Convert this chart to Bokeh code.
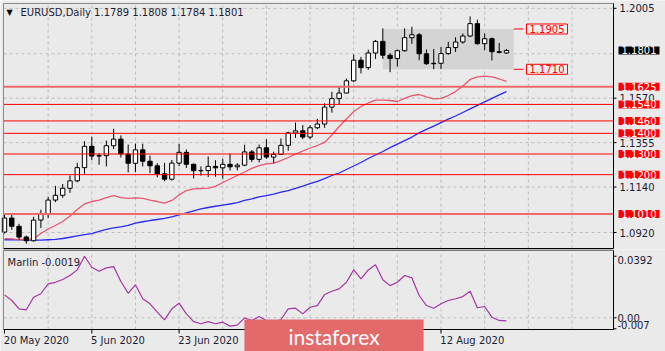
import numpy as np
import pandas as pd
from bokeh.plotting import figure
from bokeh.layouts import column
from bokeh.models import Range1d, Label
from bokeh.embed import file_html
from bokeh.resources import INLINE

# ---------------- data ----------------
symbol = "EURUSD"
timeframe = "Daily"
start_date = "2020-05-20"

opens = [1.0922, 1.0990, 1.0950, 1.0898, 1.0880, 1.0980, 1.1007, 1.1077, 1.1100, 1.1134,
         1.1170, 1.1234, 1.1337, 1.1290, 1.1292, 1.1340, 1.1372, 1.1300, 1.1255, 1.1320,
         1.1265, 1.1243, 1.1204, 1.1178, 1.1256, 1.1308, 1.1250, 1.1219, 1.1220, 1.1240,
         1.1233, 1.1250, 1.1238, 1.1246, 1.1310, 1.1274, 1.1330, 1.1285, 1.1298, 1.1342,
         1.1402, 1.1412, 1.1382, 1.1427, 1.1445, 1.1527, 1.1568, 1.1595, 1.1654, 1.1754,
         1.1718, 1.1789, 1.1845, 1.1778, 1.1762, 1.1800, 1.1863, 1.1877, 1.1785, 1.1737,
         1.1739, 1.1786, 1.1815, 1.1842, 1.1871, 1.1931, 1.1834, 1.1858, 1.1795, 1.1789]
highs = [1.1008, 1.1010, 1.0962, 1.0905, 1.0996, 1.1030, 1.1093, 1.1146, 1.1155, 1.1196,
         1.1257, 1.1362, 1.1384, 1.1304, 1.1365, 1.1422, 1.1390, 1.1346, 1.1350, 1.1350,
         1.1292, 1.1256, 1.1257, 1.1271, 1.1349, 1.1322, 1.1254, 1.1240, 1.1288, 1.1270,
         1.1277, 1.1302, 1.1256, 1.1345, 1.1319, 1.1346, 1.1371, 1.1311, 1.1375, 1.1408,
         1.1452, 1.1440, 1.1440, 1.1470, 1.1545, 1.1601, 1.1626, 1.1665, 1.1781, 1.1770,
         1.1805, 1.1852, 1.1908, 1.1788, 1.1806, 1.1908, 1.1916, 1.1885, 1.1806, 1.1808,
         1.1818, 1.1843, 1.1865, 1.1883, 1.1966, 1.1950, 1.1884, 1.1864, 1.1838, 1.1808]
lows = [1.0915, 1.0933, 1.0885, 1.0866, 1.0876, 1.0942, 1.0990, 1.1067, 1.1088, 1.1112,
        1.1163, 1.1204, 1.1270, 1.1248, 1.1240, 1.1324, 1.1283, 1.1211, 1.1212, 1.1240,
        1.1207, 1.1187, 1.1168, 1.1171, 1.1241, 1.1232, 1.1182, 1.1195, 1.1188, 1.1190,
        1.1180, 1.1220, 1.1221, 1.1241, 1.1261, 1.1259, 1.1276, 1.1255, 1.1297, 1.1316,
        1.1378, 1.1372, 1.1372, 1.1420, 1.1427, 1.1500, 1.1540, 1.1594, 1.1648, 1.1690,
        1.1707, 1.1760, 1.1760, 1.1696, 1.1723, 1.1795, 1.1833, 1.1754, 1.1732, 1.1711,
        1.1711, 1.1780, 1.1794, 1.1834, 1.1866, 1.1829, 1.1802, 1.1753, 1.1787, 1.1784]
closes = [1.0990, 1.0950, 1.0898, 1.0880, 1.0980, 1.1007, 1.1077, 1.1100, 1.1134, 1.1170,
          1.1234, 1.1337, 1.1290, 1.1292, 1.1340, 1.1372, 1.1300, 1.1255, 1.1320, 1.1265,
          1.1243, 1.1204, 1.1178, 1.1256, 1.1308, 1.1250, 1.1219, 1.1220, 1.1240, 1.1233,
          1.1250, 1.1238, 1.1246, 1.1310, 1.1274, 1.1330, 1.1285, 1.1298, 1.1342, 1.1402,
          1.1412, 1.1382, 1.1427, 1.1445, 1.1527, 1.1568, 1.1595, 1.1654, 1.1754, 1.1718,
          1.1789, 1.1845, 1.1778, 1.1762, 1.1800, 1.1863, 1.1877, 1.1785, 1.1737, 1.1739,
          1.1786, 1.1815, 1.1842, 1.1871, 1.1931, 1.1834, 1.1858, 1.1795, 1.1792, 1.1801]

ma_fast = [1.0890, 1.0889, 1.0886, 1.0885, 1.0889, 1.0915, 1.0937, 1.0954, 1.0973, 1.1000,
           1.1031, 1.1058, 1.1070, 1.1077, 1.1089, 1.1098, 1.1089, 1.1085, 1.1088, 1.1085,
           1.1077, 1.1070, 1.1062, 1.1075, 1.1102, 1.1123, 1.1131, 1.1133, 1.1135, 1.1143,
           1.1162, 1.1179, 1.1196, 1.1213, 1.1230, 1.1244, 1.1252, 1.1256, 1.1268, 1.1283,
           1.1300, 1.1314, 1.1329, 1.1341, 1.1356, 1.1392, 1.1433, 1.1469, 1.1506, 1.1530,
           1.1547, 1.1561, 1.1561, 1.1559, 1.1554, 1.1569, 1.1583, 1.1588, 1.1576, 1.1567,
           1.1569, 1.1583, 1.1602, 1.1629, 1.1661, 1.1673, 1.1677, 1.1673, 1.1663, 1.1651]
ma_slow = [1.0885, 1.0885, 1.0884, 1.0883, 1.0883, 1.0883, 1.0885, 1.0887, 1.0891, 1.0897,
           1.0904, 1.0910, 1.0915, 1.0925, 1.0935, 1.0942, 1.0947, 1.0954, 1.0965, 1.0972,
           1.0978, 1.0983, 1.0988, 1.0996, 1.1005, 1.1015, 1.1025, 1.1034, 1.1041, 1.1047,
           1.1053, 1.1058, 1.1065, 1.1075, 1.1083, 1.1092, 1.1099, 1.1106, 1.1115, 1.1123,
           1.1134, 1.1145, 1.1156, 1.1167, 1.1181, 1.1196, 1.1208, 1.1225, 1.1242, 1.1259,
           1.1278, 1.1295, 1.1312, 1.1331, 1.1348, 1.1365, 1.1382, 1.1402, 1.1419, 1.1435,
           1.1452, 1.1469, 1.1484, 1.1501, 1.1518, 1.1535, 1.1552, 1.1569, 1.1586, 1.1602]
marlin = [0.0146, 0.0110, 0.0057, 0.0051, 0.0131, 0.0153, 0.0216, 0.0226, 0.0244, 0.0269,
          0.0305, 0.0392, 0.0322, 0.0296, 0.0318, 0.0326, 0.0231, 0.0156, 0.0210, 0.0121,
          0.0089, 0.0036, -0.0013, 0.0057, 0.0093, 0.0025, -0.0024, -0.0038, -0.0024, -0.0038,
          -0.0028, -0.0053, -0.0047, 0.0000, -0.0017, 0.0008, -0.0017, -0.0032, -0.0011, 0.0057,
          0.0061, 0.0025, 0.0067, 0.0078, 0.0148, 0.0169, 0.0184, 0.0226, 0.0305, 0.0248,
          0.0305, 0.0337, 0.0242, 0.0205, 0.0226, 0.0269, 0.0254, 0.0142, 0.0078, 0.0061,
          0.0089, 0.0110, 0.0121, 0.0135, 0.0169, 0.0064, 0.0072, 0.0004, -0.0017, -0.0019]

levels = [1.1625, 1.1540, 1.1460, 1.1400, 1.1300, 1.1200, 1.1010]
zone_start, zone_end = 52, 70
zone_top, zone_bottom = 1.1905, 1.1710
price_ticks = [1.0920, 1.1140, 1.1355, 1.1570, 1.1785, 1.2005]
date_tick_idx = [0, 12, 24, 60]
marlin_scale = [0.0392, 0.0, -0.007]
marlin_scale_labels = ["0.0392", "0.00", "-0.007"]

# ---------------- layout / style ----------------
BG = "#eaeaea"
GRID = "#bcbcbc"
TXT = "#1c1c34"
FONT = "DejaVu Sans"
strong_levels = {1.1625, 1.1010}

BAR_PX, BAR0_PX = 7.275, 4.0
PRICE_REF, PRICE_REF_PX, PX_PER_PRICE = 1.0920, 232.0, 2066.0
OSC_ZERO_PX, PX_PER_OSC = 317.3, 1571.0


def xd(px):
    return (px - BAR0_PX) / BAR_PX


def yd(py):
    return PRICE_REF + (PRICE_REF_PX - py) / PX_PER_PRICE


def od(py):
    return (OSC_ZERO_PX - py) / PX_PER_OSC


n = len(closes)
idx = np.arange(n)
o, h, l, c = map(np.array, (opens, highs, lows, closes))
dates = pd.bdate_range(start_date, periods=n)
grid_x = list(range(6, 84, 6))
XL, XR = xd(3), xd(613)


def make_fig(height, y_range):
    return figure(width=665, height=height, output_backend="svg", toolbar_location=None,
                  x_range=x_range, y_range=y_range, x_axis_location=None, y_axis_location=None,
                  min_border=0, min_border_left=0, min_border_right=0, min_border_top=0,
                  min_border_bottom=0, background_fill_color=BG, border_fill_color=BG,
                  outline_line_color=None)


x_range = Range1d(xd(0), xd(665))

# ---------------- main panel ----------------
p1 = make_fig(249, Range1d(yd(249), yd(0)))
p1.grid.visible = False

# grid
p1.segment(x0=grid_x, y0=[yd(248)] * len(grid_x), x1=grid_x, y1=[yd(3)] * len(grid_x),
           line_color=GRID, line_dash="3 3", line_width=1)
p1.segment(x0=[XL] * len(price_ticks), y0=price_ticks, x1=[XR] * len(price_ticks), y1=price_ticks,
           line_color=GRID, line_dash="3 3", line_width=1)

# range zone, moving averages, candles
p1.quad(left=[zone_start], right=[zone_end], top=[zone_top], bottom=[zone_bottom],
        fill_color="#d4d4d4", line_color=None)
p1.line(idx, ma_slow, line_color="#2a2af0", line_width=1.3)
p1.line(idx, ma_fast, line_color="#e8566f", line_width=1.3)
p1.segment(x0=idx, y0=l, x1=idx, y1=h, line_color="#000000", line_width=1)
up = c >= o
dn = ~up
p1.vbar(x=idx[up], top=c[up], bottom=o[up], width=0.6, fill_color="#ffffff", line_color="#000000")
p1.vbar(x=idx[dn], top=o[dn], bottom=c[dn], width=0.6, fill_color="#000000", line_color="#000000")

# horizontal levels
for lvl in levels:
    strong = lvl in strong_levels
    p1.segment(x0=[XL], y0=[lvl], x1=[XR], y1=[lvl],
               line_color="#f06a6a" if strong else "#ff0000", line_width=2 if strong else 1)

# zone connectors and labels
p1.segment(x0=[zone_end, zone_end], y0=[zone_top, zone_bottom], x1=[xd(523)] * 2,
           y1=[zone_top, zone_bottom], line_color="#ff0000", line_width=1)
for v in (zone_top, zone_bottom):
    p1.add_layout(Label(x=xd(526), y=v, text=f"{v:.4f}", text_font=FONT, text_font_size="10px",
                        text_color="#ff0000", text_align="left", text_baseline="middle",
                        background_fill_color="#eeeeee", border_line_color="#ff0000",
                        padding=(3, 1)))

# frame border
p1.segment(x0=[XL, XL], y0=[yd(3), yd(3)], x1=[XR, XL], y1=[yd(3), yd(248)],
           line_color="#8a8a8a", line_width=1)
p1.segment(x0=[XR, XL], y0=[yd(3), yd(248)], x1=[XR, XR], y1=[yd(248), yd(248)],
           line_color="#000000", line_width=1)

# right price scale
shown_ticks = [t for t in price_ticks if abs(t - c[-1]) > 0.003]
p1.segment(x0=[XR] * len(shown_ticks), y0=shown_ticks, x1=[xd(616)] * len(shown_ticks),
           y1=shown_ticks, line_color="#000000", line_width=1)
for t in shown_ticks:
    p1.add_layout(Label(x=xd(619), y=t, text=f"{t:.4f}", text_font=FONT, text_font_size="10px",
                        text_color=TXT, text_align="left", text_baseline="middle"))
for lvl in levels:
    p1.add_layout(Label(x=xd(618), y=lvl, text=f"{lvl:.4f}", text_font=FONT, text_font_size="10px",
                        text_color="#ffffff", text_align="left", text_baseline="middle",
                        background_fill_color="#ff0000", padding=(3, 0)))
p1.add_layout(Label(x=xd(618), y=c[-1], text=f"{c[-1]:.4f}", text_font=FONT, text_font_size="10px",
                    text_color="#ffffff", text_align="left", text_baseline="middle",
                    background_fill_color="#000000", padding=(3, 0)))

# title
p1.add_layout(Label(x=xd(6), y=yd(12), text="\u25bc", text_font=FONT, text_font_size="8px",
                    text_color="#000000", text_baseline="middle"))
p1.add_layout(Label(x=xd(20), y=yd(12),
                    text=f"{symbol},{timeframe}  {o[-1]:.4f} {h[-1]:.4f} {l[-1]:.4f} {c[-1]:.4f}",
                    text_font=FONT, text_font_size="10px", text_color=TXT, text_baseline="middle"))

# ---------------- indicator panel ----------------
p2 = make_fig(102, Range1d(od(351), od(249)))
p2.grid.visible = False
p2.segment(x0=grid_x, y0=[od(329)] * len(grid_x), x1=grid_x, y1=[od(251)] * len(grid_x),
           line_color=GRID, line_dash="3 3", line_width=1)
p2.segment(x0=[XL], y0=[0.0], x1=[XR], y1=[0.0], line_color=GRID, line_dash="3 3", line_width=1)
p2.line(idx, marlin, line_color="#a535a5", line_width=1.2)

# panel border (separator band on top)
p2.segment(x0=[XL], y0=[od(249.5)], x1=[XR], y1=[od(249.5)], line_color="#7a7a7a", line_width=2)
p2.segment(x0=[XL], y0=[od(250)], x1=[XL], y1=[od(329)], line_color="#8a8a8a", line_width=1)
p2.segment(x0=[XR, XL], y0=[od(250), od(329)], x1=[XR, XR], y1=[od(329), od(329)],
           line_color="#000000", line_width=1)

# oscillator scale
p2.segment(x0=[XR] * 3, y0=marlin_scale, x1=[xd(616)] * 3, y1=marlin_scale,
           line_color="#000000", line_width=1)
for v, s, base in zip(marlin_scale, marlin_scale_labels, ["top", "middle", "bottom"]):
    p2.add_layout(Label(x=xd(617), y=v, text=s, text_font=FONT, text_font_size="10px",
                        text_color=TXT, text_align="left", text_baseline=base))

# date scale
p2.segment(x0=date_tick_idx, y0=[od(329)] * len(date_tick_idx), x1=date_tick_idx,
           y1=[od(333)] * len(date_tick_idx), line_color="#000000", line_width=1)
for i in date_tick_idx:
    p2.add_layout(Label(x=i - 0.1, y=od(340), text=f"{dates[i].day} {dates[i].strftime('%b %Y')}",
                        text_font=FONT, text_font_size="10px", text_color=TXT,
                        text_align="left", text_baseline="middle"))

p2.add_layout(Label(x=xd(7), y=od(262), text=f"Marlin {marlin[-1]:.4f}", text_font=FONT,
                    text_font_size="10px", text_color=TXT, text_baseline="middle"))

# watermark
p2.add_layout(Label(x=xd(333.5), y=od(335.5), text="instaforex", text_font="Lato",
                    text_font_size="21px", text_color="#ffffff", text_align="center",
                    text_baseline="middle", background_fill_color="#e36a6a",
                    padding=(44, 4)))

layout = column(p1, p2, spacing=0)
open("out.html", "w").write(file_html(layout, INLINE, title="EURUSD Daily"))
